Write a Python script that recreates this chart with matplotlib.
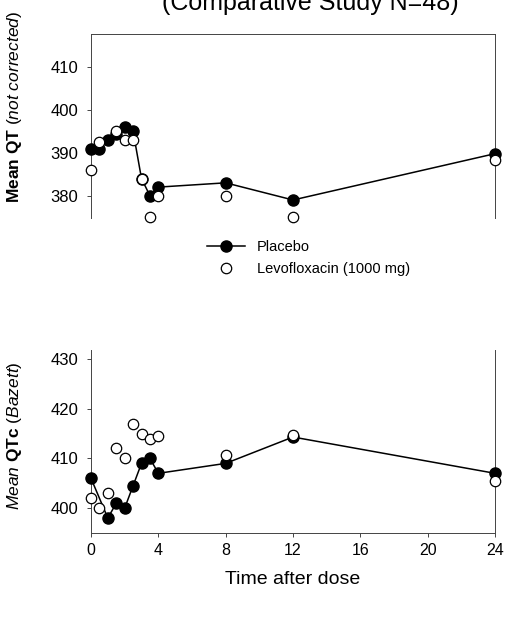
import matplotlib
matplotlib.use("Agg")
import matplotlib.pyplot as plt
from matplotlib.lines import Line2D

plt.rcParams['font.family'] = ['Liberation Sans', 'DejaVu Sans']
plt.rcParams['mathtext.fontset'] = 'custom'
plt.rcParams['mathtext.rm'] = 'Liberation Sans'
plt.rcParams['mathtext.it'] = 'Liberation Sans:italic'
plt.rcParams['mathtext.bf'] = 'Liberation Sans:bold'

# ---- data ----
qt_placebo_t = [0, 0.5, 1, 1.5, 2, 2.5, 3, 3.5, 4, 8, 12, 24]
qt_placebo = [391, 391, 393, 394.5, 396, 395, 384, 380, 382, 383, 379, 389.8]
qt_levo_t = [0, 0.5, 1.5, 2, 2.5, 3, 3.5, 4, 8, 12, 24]
qt_levo = [386, 392.5, 395, 393, 393, 384, 375, 380, 380, 375, 388.4]

qtc_placebo_t = [0, 1, 1.5, 2, 2.5, 3, 3.5, 4, 8, 12, 24]
qtc_placebo = [406, 398, 401, 400, 404.5, 409, 410, 407, 409, 414.3, 407]
qtc_levo_t = [0, 0.5, 1, 1.5, 2, 2.5, 3, 3.5, 4, 8, 12, 24]
qtc_levo = [402, 400, 403, 412, 410, 417, 415, 414, 414.5, 410.7, 414.8, 405.5]

x_ticks = [0, 4, 8, 12, 16, 20, 24]
qt_yticks = [380, 390, 400, 410]
qtc_yticks = [400, 410, 420, 430]

fig = plt.figure(figsize=(5.08, 6.19), dpi=100)
W, H = 508, 619

def axrect(l, t, r, b):
    return [l / W, 1 - b / H, (r - l) / W, (b - t) / H]

spc = '#444444'
fs = 12

ax1 = fig.add_axes(axrect(91, 34, 495, 218))
ax2 = fig.add_axes(axrect(91, 350, 495, 533))

def draw(ax, pt, pv, lt, lv):
    ax.plot(pt, pv, '-', color='black', lw=1.1, marker='o', ms=8,
            mfc='black', mec='black', clip_on=False, zorder=3)
    ax.plot(lt, lv, 'o', ms=7.5, mfc='white', mec='black', mew=0.9,
            clip_on=False, zorder=4)

draw(ax1, qt_placebo_t, qt_placebo, qt_levo_t, qt_levo)
draw(ax2, qtc_placebo_t, qtc_placebo, qtc_levo_t, qtc_levo)

ax1.set_xlim(0, 24)
ax1.set_ylim(374.8, 417.7)
ax1.set_yticks(qt_yticks)
ax1.set_xticks([])
ax1.spines['bottom'].set_visible(False)
for s in ['left', 'right', 'top']:
    ax1.spines[s].set_color(spc)
    ax1.spines[s].set_linewidth(0.7)

ax2.set_xlim(0, 24)
ax2.set_ylim(395, 431.8)
ax2.set_yticks(qtc_yticks)
ax2.set_xticks(x_ticks)
ax2.spines['top'].set_visible(False)
for s in ['left', 'right', 'bottom']:
    ax2.spines[s].set_color(spc)
    ax2.spines[s].set_linewidth(0.7)

for ax in (ax1, ax2):
    ax.tick_params(axis='both', direction='out', length=3, width=0.7,
                   color=spc, labelsize=fs, pad=6)
ax2.tick_params(axis='x', labelsize=11.5, pad=4)

fig.text(15 / W, 1 - 107 / H,
         r'$\bf{Mean\ QT}$ $\it{(not\ corrected)}$', fontsize=12.5,
         rotation=90, ha='center', va='center')
fig.text(15 / W, 1 - 436 / H,
         r'$\it{Mean}$ $\bf{QTc}$ $\it{(Bazett)}$', fontsize=12.5,
         rotation=90, ha='center', va='center')
fig.text(293 / W, 1 - 580 / H, 'Time after dose', fontsize=14,
         ha='center', va='center')

fig.text(310 / W, 1 - 10 / H, '(Comparative Study N=48)', fontsize=18,
         ha='center', va='baseline')

handles = [
    Line2D([], [], color='black', lw=1.1, marker='o', ms=8, mfc='black'),
    Line2D([], [], ls='none', marker='o', ms=7.5, mfc='white', mec='black',
           mew=0.9),
]
fig.legend(handles, ['Placebo', 'Levofloxacin (1000 mg)'],
           loc='upper left', bbox_to_anchor=(207 / W, 1 - 240 / H),
           frameon=False, fontsize=10.5, handlelength=2.6, handletextpad=0.8,
           labelspacing=0.55, borderpad=0, borderaxespad=0)

fig.savefig('out.png', dpi=100)
